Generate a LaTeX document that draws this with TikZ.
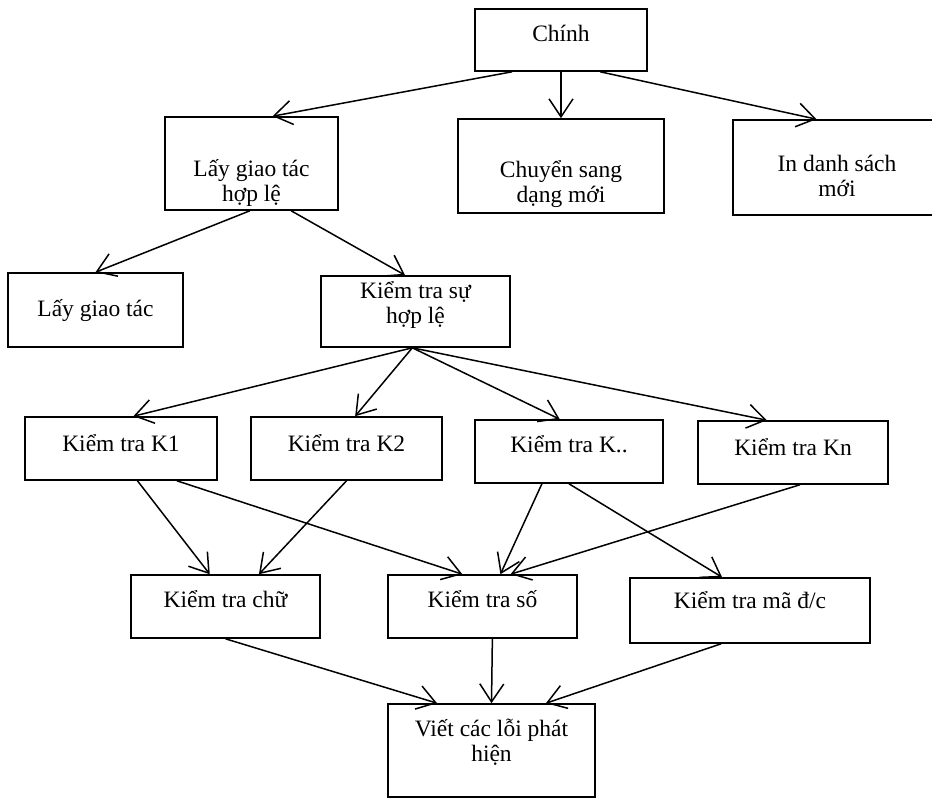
\documentclass[tikz,border=0pt]{standalone}
\usepackage{fontspec}
\setmainfont{Liberation Serif}
\usetikzlibrary{arrows.meta}

\begin{document}
\begin{tikzpicture}[x=1pt,y=-1pt,
    box/.style={draw,line width=1.6pt,inner sep=0pt,align=center,
      font=\fontsize{23.5}{25}\selectfont},
    txt/.style 2 args={text height=#1pt,text depth=#2pt},
    arr/.style={line width=1.5pt,-{Straight Barb[length=18pt,width=24pt]}}]
  \useasboundingbox (0,0) rectangle (932,801);
  % first level
  \node[box,txt={11.5}{8.5},minimum width=172pt,minimum height=62pt] (main) at (561,40) {Chính};
  \node[box,txt={77.5}{2.5},minimum width=173pt,minimum height=93pt] (valid) at (251.5,163.5) {Lấy giao tác\\hợp lệ};
  \node[box,txt={76}{4},minimum width=206pt,minimum height=94pt] (convert) at (561,166) {Chuyển sang\\dạng mới};
  \node[box,txt={68}{10},minimum width=208pt,minimum height=95pt] (print) at (837,167.5) {In danh sách\\mới};
  % getting a valid transaction
  \node[box,txt={16}{4},minimum width=175pt,minimum height=74pt] (get) at (95.5,310) {Lấy giao tác};
  \node[box,txt={41.5}{18.5},minimum width=189pt,minimum height=71pt] (check) at (415.5,311.5) {Kiểm tra sự\\hợp lệ};
  % the single checks
  \node[box,txt={13}{7},minimum width=192pt,minimum height=63pt] (k1) at (121,448.5) {Kiểm tra K1};
  \node[box,txt={13}{7},minimum width=191pt,minimum height=63pt] (k2) at (346.5,448.5) {Kiểm tra K2};
  \node[box,txt={10.5}{9.5},minimum width=188pt,minimum height=63pt] (kdots) at (569,451.5) {Kiểm tra K..};
  \node[box,txt={12.5}{7.5},minimum width=190pt,minimum height=63pt] (kn) at (793,452.5) {Kiểm tra Kn};
  \node[box,txt={10.5}{9.5},minimum width=189pt,minimum height=63pt] (letters) at (225.5,606.5) {Kiểm tra chữ};
  \node[box,txt={10.5}{9.5},minimum width=189pt,minimum height=63pt] (digits) at (482.5,606.5) {Kiểm tra số};
  \node[box,txt={7.5}{12.5},minimum width=240pt,minimum height=65pt] (code) at (750,610.5) {Kiểm tra mã đ/c};
  \node[box,txt={41}{18.5},minimum width=207pt,minimum height=93pt] (errors) at (491.5,750.5) {Viết các lỗi phát\\hiện};

  \draw[arr] (main.213) -- (valid.66);
  \draw[arr] (main.south) -- (convert.north);
  \draw[arr] (main.321) -- (print.113);
  \draw[arr] (valid.268) -- (get.north);
  \draw[arr] (valid.310) -- (check.106);
  \draw[arr] (check.265) -- (k1.69);
  \draw[arr] (check.265) -- (k2.75);
  \draw[arr] (check.265) -- (kdots.106);
  \draw[arr] (check.265) -- (kn.129);
  \draw[arr] (k1.297) -- (letters.116);
  \draw[arr] (k1.330) -- (digits.122);
  \draw[arr] (k2.south) -- (letters.44);
  \draw[arr] (kdots.230) -- (digits.61);
  \draw[arr] (kdots.south) -- (code.130);
  \draw[arr] (kn.282) -- (digits.49);
  \draw[arr] (letters.south) -- (errors.139);
  \draw[arr] (digits.287) -- (errors.north);
  \draw[arr] (code.229) -- (errors.41);
\end{tikzpicture}
\end{document}
